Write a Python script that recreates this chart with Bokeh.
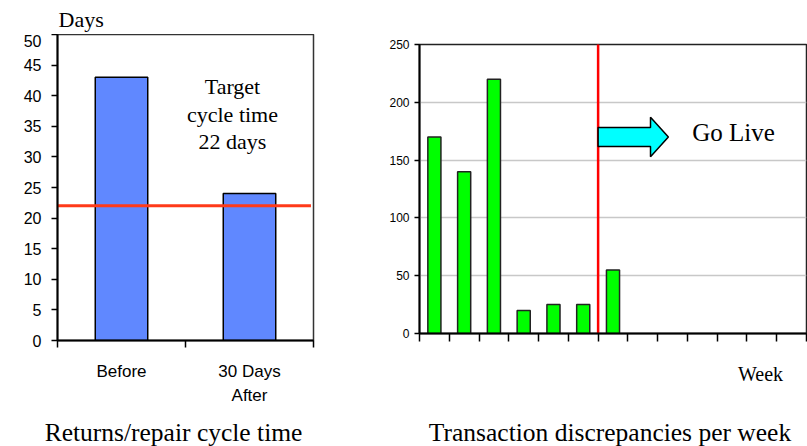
from bokeh.plotting import figure
from bokeh.layouts import row, column
from bokeh.models import FixedTicker, Range1d, Label, ColumnDataSource
from bokeh.core.properties import value
from bokeh.embed import file_html
from bokeh.resources import INLINE

# ---- data: returns/repair cycle time ----
cycle_categories = ["Before", "30 Days\nAfter"]
cycle_days = [43, 24]
target_days = 22
cycle_ticks = [0, 5, 10, 15, 20, 25, 30, 35, 40, 45, 50]

# ---- data: transaction discrepancies per week ----
week_count = 13
weekly_discrepancies = [170, 140, 220, 20, 25, 25, 55]
go_live_week = 6          # go-live falls between week 6 and week 7
discrepancy_ticks = [0, 50, 100, 150, 200, 250]

SERIF = "Liberation Serif"
SANS = "Liberation Sans"


def text_strip(w, h):
    """Axis-free pixel-scaled strip (origin top-left) for captions."""
    f = figure(width=w, height=h, output_backend="svg", toolbar_location=None,
               x_range=Range1d(0, w), y_range=Range1d(h, 0), min_border=0,
               x_axis_location=None, y_axis_location=None, frame_align=False)
    f.grid.visible = False
    f.outline_line_color = None
    f.background_fill_color = "white"
    f.border_fill_color = "white"
    return f


def caption(f, x, y, text, size, align="left"):
    f.text(x=[x], y=[y], text=[text], text_font=value(SERIF),
           text_font_size=value(size), text_baseline="middle",
           text_align=align, text_color="black")


# ------------------------------------------------------------------
# Left chart
# ------------------------------------------------------------------
p1 = figure(width=360, height=384, output_backend="svg", toolbar_location=None,
            x_range=Range1d(0, len(cycle_categories)), y_range=Range1d(0, 50),
            min_border_left=57, min_border_right=47, min_border_top=0,
            min_border_bottom=78, frame_align=False)
p1.background_fill_color = "white"
p1.border_fill_color = "white"
p1.outline_line_color = "#333333"
p1.outline_line_width = 1.5
p1.xgrid.visible = False
p1.ygrid.visible = False

cx = [i + 0.5 for i in range(len(cycle_categories))]
src1 = ColumnDataSource(dict(x=cx, top=cycle_days))
p1.vbar(x="x", top="top", width=0.41, bottom=0, source=src1,
        fill_color="#6088FF", line_color="black", line_width=1.5)
p1.segment(x0=[0], x1=[len(cycle_categories) - 0.02], y0=[target_days],
           y1=[target_days], line_color="#FF3A1A", line_width=3)

xa = p1.xaxis[0]
xa.ticker = FixedTicker(ticks=cx, minor_ticks=list(range(len(cycle_categories) + 1)))
xa.major_label_overrides = {c: lab for c, lab in zip(cx, cycle_categories)}
xa.major_tick_out = 0
xa.major_tick_in = 0
xa.minor_tick_out = 7
xa.minor_tick_in = 0
xa.minor_tick_line_color = "black"
xa.minor_tick_line_width = 1.5
xa.axis_line_color = "black"
xa.axis_line_width = 2
xa.major_label_text_font = SANS
xa.major_label_text_font_size = "17px"
xa.major_label_text_color = "black"
xa.major_label_text_line_height = 1.3
xa.major_label_standoff = 14

ya = p1.yaxis[0]
ya.ticker = FixedTicker(ticks=cycle_ticks)
ya.minor_tick_line_color = None
ya.major_tick_out = 6
ya.major_tick_in = 0
ya.major_tick_line_color = "black"
ya.major_tick_line_width = 1.5
ya.axis_line_color = "black"
ya.axis_line_width = 2
ya.major_label_text_font = SANS
ya.major_label_text_font_size = "16px"
ya.major_label_text_color = "black"
ya.major_label_standoff = 10

p1.add_layout(Label(x=1.367, y=37.0, text="Target\ncycle time\n22 days",
                    text_font=SERIF, text_font_size="22px",
                    text_baseline="middle", text_align="center",
                    text_line_height=1.1, text_color="black"))

top1 = text_strip(360, 34)
caption(top1, 58, 18.5, "Days", "22px")
bottom1 = text_strip(360, 28)
caption(bottom1, 173, 14, "Returns/repair cycle time", "25.5px", align="center")

left_block = column(top1, p1, bottom1, spacing=0)

# ------------------------------------------------------------------
# Right chart
# ------------------------------------------------------------------
p2 = figure(width=447, height=347, output_backend="svg", toolbar_location=None,
            x_range=Range1d(0, week_count), y_range=Range1d(0, 250),
            min_border_left=59, min_border_right=1, min_border_top=44,
            min_border_bottom=14, frame_align=False)
p2.background_fill_color = "white"
p2.border_fill_color = "white"
p2.outline_line_color = "#222222"
p2.outline_line_width = 1.5
p2.xgrid.visible = False
p2.ygrid.ticker = FixedTicker(ticks=discrepancy_ticks[1:-1])
p2.ygrid.grid_line_color = "#C8C8C8"
p2.ygrid.grid_line_width = 1.5

wx = [i + 0.5 for i in range(len(weekly_discrepancies))]
src2 = ColumnDataSource(dict(x=wx, top=weekly_discrepancies))
p2.vbar(x="x", top="top", width=0.44, bottom=0, source=src2,
        fill_color="#00FF00", line_color="#222222", line_width=1.5)

# go-live marker line
p2.segment(x0=[go_live_week], x1=[go_live_week], y0=[-10], y1=[260],
           line_color="#FF0000", line_width=2.5)

# arrow pointing toward the post go-live weeks
ay = 170
p2.patch(x=[go_live_week, 7.76, 7.76, 8.36, 7.76, 7.76, go_live_week],
         y=[ay - 8.3, ay - 8.3, ay - 17, ay, ay + 17, ay + 8.3, ay + 8.3],
         fill_color="#00FFFF", line_color="black", line_width=1.5)
p2.add_layout(Label(x=9.16, y=173.5, text="Go Live", text_font=SERIF,
                    text_font_size="25px", text_baseline="middle",
                    text_align="left", text_color="black"))

xb = p2.xaxis[0]
xb.ticker = FixedTicker(ticks=[], minor_ticks=list(range(week_count + 1)))
xb.major_tick_out = 0
xb.major_tick_in = 0
xb.minor_tick_out = 8
xb.minor_tick_in = 0
xb.minor_tick_line_color = "black"
xb.minor_tick_line_width = 1.5
xb.axis_line_color = "black"
xb.axis_line_width = 2
xb.major_label_standoff = 0

yb = p2.yaxis[0]
yb.ticker = FixedTicker(ticks=discrepancy_ticks)
yb.minor_tick_line_color = None
yb.major_tick_out = 5
yb.major_tick_in = 0
yb.major_tick_line_color = "black"
yb.major_tick_line_width = 1.5
yb.axis_line_color = "black"
yb.axis_line_width = 2
yb.major_label_text_font = SANS
yb.major_label_text_font_size = "12px"
yb.major_label_text_color = "black"
yb.major_label_standoff = 5

bottom2 = text_strip(447, 99)
caption(bottom2, 760 - 360, 373 - 347, "Week", "20px", align="center")
caption(bottom2, 609.5 - 360, 432 - 347, "Transaction discrepancies per week",
        "25.5px", align="center")

right_block = column(p2, bottom2, spacing=0)

layout = row(left_block, right_block, spacing=0)
open("out.html", "w").write(file_html(layout, INLINE))
